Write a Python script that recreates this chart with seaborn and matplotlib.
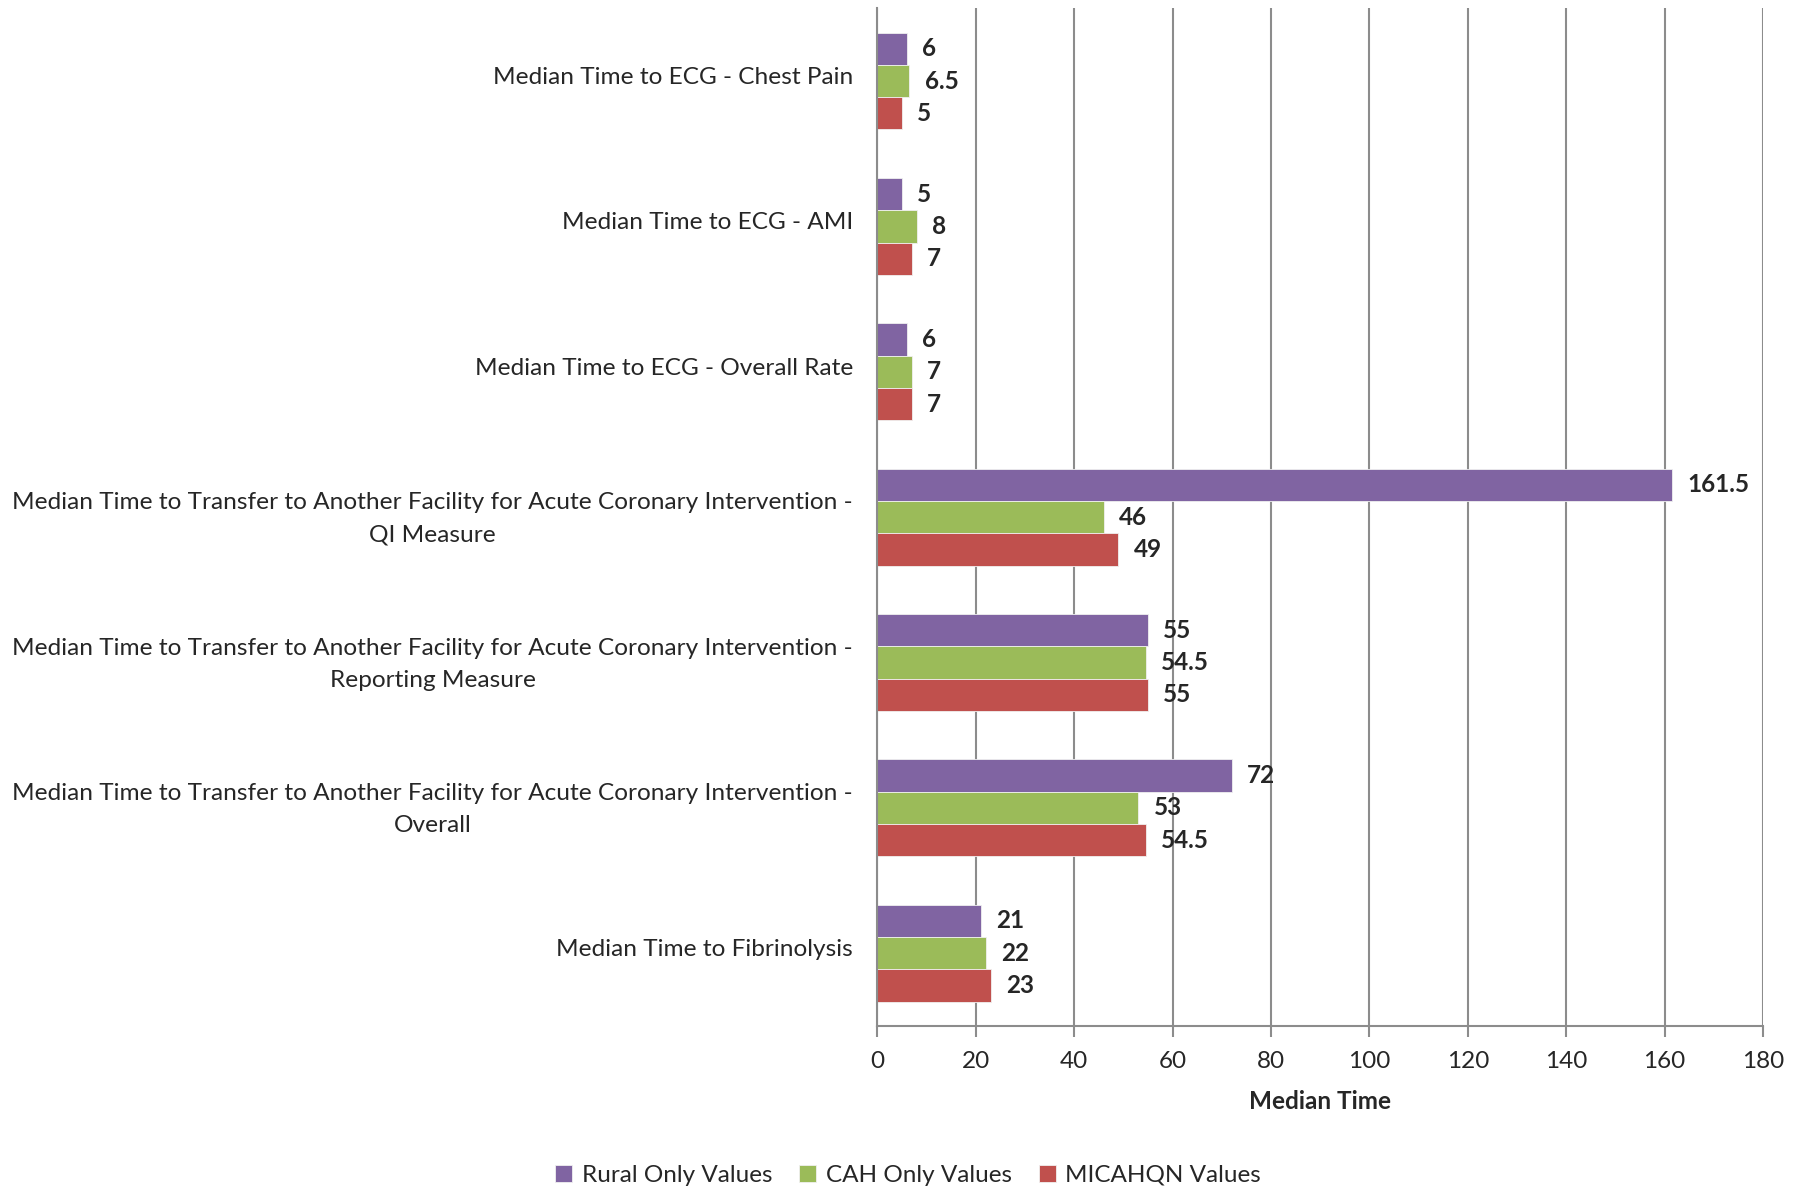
import pandas as pd
import matplotlib.pyplot as plt
import matplotlib.transforms as mtrans
import seaborn as sns

categories = [
    "Median Time to ECG - Chest Pain",
    "Median Time to ECG - AMI",
    "Median Time to ECG - Overall Rate",
    "Median Time to Transfer to Another Facility for Acute Coronary Intervention -\nQI Measure",
    "Median Time to Transfer to Another Facility for Acute Coronary Intervention -\nReporting Measure",
    "Median Time to Transfer to Another Facility for Acute Coronary Intervention -\nOverall",
    "Median Time to Fibrinolysis",
]
series = ["Rural Only Values", "CAH Only Values", "MICAHQN Values"]
rural = [6, 5, 6, 161.5, 55, 72, 21]
cah = [6.5, 8, 7, 46, 54.5, 53, 22]
micahqn = [5, 7, 7, 49, 55, 54.5, 23]
colors = ["#8064A2", "#9BBB59", "#C0504D"]

df = pd.DataFrame({
    "Measure": categories * 3,
    "Series": [series[0]] * 7 + [series[1]] * 7 + [series[2]] * 7,
    "Value": rural + cah + micahqn,
})

sns.set_style("white")
plt.rcParams["font.family"] = ["Lato", "DejaVu Sans"]

fig = plt.figure(figsize=(18.09, 11.90), dpi=100)
ax = fig.add_axes([0.485, 0.138, 0.4896, 0.855])

sns.barplot(data=df, y="Measure", x="Value", hue="Series", orient="h",
            palette=colors, saturation=1, width=0.667, gap=0, ax=ax,
            edgecolor="#f0f0f0", linewidth=0.6, legend=True)

for cont in ax.containers:
    ax.bar_label(cont, fmt="%g", padding=11, fontsize=17.5, fontweight="bold")

ax.set_xlim(0, 180)
ax.set_ylim(6.5, -0.5)
ax.set_xticks(range(0, 181, 20))
ax.xaxis.grid(True, color="#8c8c8c", linewidth=1.5)
ax.set_axisbelow(True)
for s in ["top", "right"]:
    ax.spines[s].set_visible(False)
for s in ["left", "bottom"]:
    ax.spines[s].set_color("#8c8c8c")
    ax.spines[s].set_linewidth(1.5)
ax.tick_params(axis="x", bottom=True, direction="out", length=8, width=1.5,
               color="#8c8c8c", labelsize=17.5, pad=10)
ax.tick_params(axis="y", left=False, labelsize=17.6, pad=14)
shift = mtrans.ScaledTranslation(0, 4 / 72, fig.dpi_scale_trans)
for lbl in ax.get_yticklabels():
    lbl.set_multialignment("center")
    lbl.set_linespacing(1.65)
    lbl.set_transform(lbl.get_transform() + shift)

ax.set_xlabel("Median Time", fontsize=17.5, fontweight="bold", labelpad=13)
ax.set_ylabel("")

handles, labels = ax.get_legend_handles_labels()
ax.legend_.remove()
fig.legend(handles, labels, loc="lower center", bbox_to_anchor=(0.502, -0.015),
           ncol=3, frameon=False, fontsize=17.5, handlelength=0.7, handleheight=0.7,
           columnspacing=1.1, handletextpad=0.4)

fig.savefig("out.png", dpi=100)
